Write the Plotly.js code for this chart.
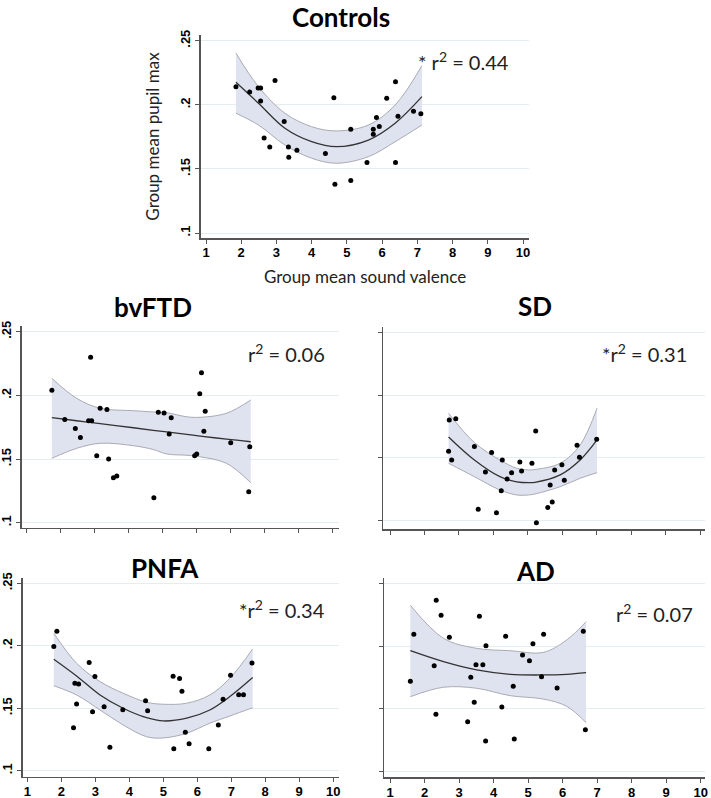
<!DOCTYPE html>
<html>
<head>
<meta charset="utf-8">
<script src="https://cdn.plot.ly/plotly-3.0.1.min.js"></script>
<style>html,body{margin:0;padding:0;background:#fff;}#chart{width:711px;height:798px;}</style>
</head>
<body>
<div id="chart"></div>
<script>
// ---------- Data ----------
// Controls
const ctrlX = [1.85,2.24,2.48,2.55,2.55,2.96,2.65,2.81,3.22,3.34,3.35,3.58,4.39,4.63,4.66,5.11,5.11,5.57,5.75,5.75,5.84,5.92,6.13,6.38,6.38,6.45,6.89,7.10];
const ctrlY = [0.214,0.210,0.213,0.213,0.203,0.219,0.174,0.167,0.187,0.167,0.159,0.1645,0.162,0.2055,0.138,0.181,0.141,0.155,0.181,0.177,0.190,0.183,0.205,0.218,0.155,0.191,0.195,0.193];
const ctrlFitX = [1.85,2.49,3.24,4.0,4.7,5.61,6.37,7.13];
const ctrlFit  = [0.2175,0.2012,0.1817,0.1712,0.1673,0.1725,0.1856,0.2063];
const ctrlUp   = [0.2402,0.2141,0.1934,0.1829,0.1796,0.1842,0.1998,0.2305];
const ctrlLo   = [0.1934,0.1842,0.1686,0.1583,0.1544,0.1595,0.1712,0.1842];

// bvFTD
const bvX = [1.74,2.12,2.43,2.58,2.88,2.82,2.91,3.06,3.16,3.36,3.41,3.55,3.65,4.74,4.87,5.04,5.19,5.25,5.94,6.0,6.09,6.14,6.25,6.21,7.0,7.56,7.53];
const bvY = [0.204,0.181,0.174,0.167,0.230,0.180,0.180,0.1526,0.190,0.189,0.150,0.1354,0.1367,0.1196,0.1867,0.1862,0.1697,0.1825,0.1526,0.1539,0.2013,0.2178,0.1875,0.1718,0.1628,0.1597,0.1244];
const bvFitX = [1.74,2.47,3.16,4.14,4.72,5.12,5.71,6.10,6.88,7.59];
const bvFit  = [0.1825,0.1801,0.1778,0.1746,0.1726,0.1713,0.1694,0.1681,0.1656,0.1636];
const bvUp   = [0.2134,0.1977,0.1899,0.1880,0.1870,0.1864,0.1832,0.1828,0.1860,0.1964];
const bvLo   = [0.1506,0.1584,0.1624,0.1605,0.1575,0.1540,0.1530,0.1518,0.1466,0.1314];

// SD
const sdX = [2.72,2.91,2.70,2.79,3.45,3.77,3.95,4.26,4.40,4.23,4.53,4.77,4.82,5.12,5.23,5.65,5.78,5.99,6.06,6.43,6.50,7.0,3.56,4.09,5.25,5.58,5.71];
const sdY = [0.1804,0.1812,0.1554,0.1484,0.1591,0.1389,0.1543,0.1484,0.1333,0.1239,0.1383,0.1468,0.1397,0.1458,0.1716,0.1285,0.1405,0.1445,0.1322,0.1602,0.1506,0.165,0.1091,0.1064,0.0984,0.1104,0.1149];
const sdFitX = [2.70,3.45,4.19,4.68,5.02,5.21,5.94,6.52,7.01];
const sdFit  = [0.1668,0.1484,0.1351,0.1310,0.1303,0.1306,0.1365,0.1484,0.1644];
const sdUp   = [0.1857,0.1623,0.1484,0.1418,0.1405,0.1408,0.1458,0.1604,0.1897];
const sdLo   = [0.1458,0.1351,0.1245,0.1205,0.1205,0.1213,0.1271,0.1338,0.1383];

// PNFA
const pnX = [1.78,1.87,2.40,2.51,2.45,2.36,2.82,2.99,2.92,3.26,3.43,3.81,4.48,4.54,5.29,5.48,5.55,5.31,5.65,5.76,6.34,6.62,6.76,6.98,7.22,7.36,7.61];
const pnY = [0.1993,0.2116,0.170,0.1694,0.1534,0.1344,0.1865,0.1753,0.1472,0.1512,0.1187,0.1488,0.156,0.148,0.1756,0.1737,0.1636,0.1176,0.1307,0.1216,0.1176,0.1366,0.1572,0.1764,0.1608,0.1608,0.1862];
const pnFitX = [1.78,2.45,3.14,3.82,4.51,5.00,5.69,6.37,6.96,7.63];
const pnFit  = [0.1892,0.1758,0.1606,0.1500,0.1424,0.1398,0.1420,0.1486,0.1593,0.1745];
const pnUp   = [0.2100,0.1860,0.1713,0.1620,0.1548,0.1532,0.1540,0.1606,0.1740,0.1974];
const pnLo   = [0.1680,0.1606,0.1486,0.1366,0.1272,0.1262,0.1300,0.1380,0.1438,0.1504];

// AD
const adX = [1.59,1.69,2.34,2.48,2.28,2.33,2.72,3.34,3.25,3.44,3.49,3.69,3.59,3.78,3.77,4.24,4.35,4.57,4.60,4.84,5.04,5.14,5.39,5.45,5.84,6.60,6.66];
const adY = [0.172,0.2094,0.2365,0.2245,0.1844,0.1457,0.207,0.1752,0.1398,0.1553,0.1852,0.1852,0.2237,0.2003,0.1244,0.1515,0.2078,0.168,0.126,0.1929,0.1884,0.2019,0.1756,0.2094,0.1666,0.2118,0.1334];
const adFitX = [1.59,2.55,3.51,4.48,5.44,6.12,6.68];
const adFit  = [0.1963,0.1876,0.1810,0.1775,0.1770,0.1775,0.1788];
const adUp   = [0.2325,0.2062,0.1982,0.1963,0.1950,0.2049,0.2194];
const adLo   = [0.1597,0.1672,0.1664,0.1605,0.1578,0.1520,0.1390];

// Tick labels
const xTickVals = [1,2,3,4,5,6,7,8,9,10];
const xTickText = ['1','2','3','4','5','6','7','8','9','10'];
const yTickVals = [0.1,0.15,0.2,0.25];
const yTickText = ['.1','.15','.2','.25'];

const panels = [
  {name:'Controls', x:ctrlX, y:ctrlY, fx:ctrlFitX, fit:ctrlFit, up:ctrlUp, lo:ctrlLo, r2:'* r<sup>2</sup> = 0.44'},
  {name:'bvFTD', x:bvX, y:bvY, fx:bvFitX, fit:bvFit, up:bvUp, lo:bvLo, r2:'r<sup>2</sup> = 0.06'},
  {name:'SD', x:sdX, y:sdY, fx:sdFitX, fit:sdFit, up:sdUp, lo:sdLo, r2:'*r<sup>2</sup> = 0.31'},
  {name:'PNFA', x:pnX, y:pnY, fx:pnFitX, fit:pnFit, up:pnUp, lo:pnLo, r2:'*r<sup>2</sup> = 0.34'},
  {name:'AD', x:adX, y:adY, fx:adFitX, fit:adFit, up:adUp, lo:adLo, r2:'r<sup>2</sup> = 0.07'}
];

// ---------- Layout geometry (pixels in 711x798 page) ----------
const W = 711, H = 798;
const geom = [
  {px:[201,529],   py:[35,238],    xr:[0.858,10.17], yr:[0.0961,0.2544], xl:true,  yl:true,  title:[341,17],  r2:[416,61]},
  {px:[21.5,339],  py:[326,527.7], xr:[0.847,10.185],yr:[0.0961,0.2545], xl:false, yl:true,  title:[153,307], r2:[246,353]},
  {px:[383.3,705], py:[327,529.3], xr:[0.805,10.145],yr:[0.0931,0.2545], xl:false, yl:false, title:[535,306], r2:[600,353]},
  {px:[23,339],    py:[578,776.7], xr:[0.874,10.17], yr:[0.0952,0.2542], xl:true,  yl:true,  title:[165,568], r2:[237,609]},
  {px:[384.3,705], py:[578,777.3], xr:[0.835,10.125],yr:[0.0955,0.2542], xl:true,  yl:false, title:[535,571], r2:[614,613]}
];

const tickFont = {family:'Liberation Sans, Arial, sans-serif', size:13, color:'#000', weight:700};
const bold = s => '<b>' + s + '</b>';
const bandFill = 'rgba(221,224,238,0.95)';
const edgeColor = '#a9abb4';
const traces = [];
const layout = {
  width:W, height:H, margin:{l:0,r:0,t:0,b:0},
  paper_bgcolor:'#fff', plot_bgcolor:'rgba(0,0,0,0)',
  showlegend:false, annotations:[]
};

panels.forEach((p,i)=>{
  const g = geom[i];
  const xa = i===0 ? 'x' : 'x'+(i+1);
  const ya = i===0 ? 'y' : 'y'+(i+1);
  const xk = i===0 ? 'xaxis' : 'xaxis'+(i+1);
  const yk = i===0 ? 'yaxis' : 'yaxis'+(i+1);
  traces.push({x:p.fx, y:p.lo, xaxis:xa, yaxis:ya, mode:'lines', line:{color:edgeColor, width:1, shape:'spline'}, hoverinfo:'skip'});
  traces.push({x:p.fx, y:p.up, xaxis:xa, yaxis:ya, mode:'lines', fill:'tonexty', fillcolor:bandFill, line:{color:edgeColor, width:1, shape:'spline'}, hoverinfo:'skip'});
  traces.push({x:p.fx, y:p.fit, xaxis:xa, yaxis:ya, mode:'lines', line:{color:'#333', width:1.3, shape:'spline'}});
  traces.push({x:p.x, y:p.y, xaxis:xa, yaxis:ya, mode:'markers', marker:{color:'#000', size:5}});

  const xax = {
    domain:[g.px[0]/W, g.px[1]/W], range:g.xr, anchor:ya,
    tickmode:'array', tickvals:xTickVals,
    showticklabels:g.xl, ticks:'outside', ticklen:4, tickcolor:'#555', tickwidth:1,
    showline:true, linecolor:'#555', linewidth:1.6, showgrid:false, zeroline:false,
    tickfont:tickFont, fixedrange:true
  };
  if (g.xl) { xax.ticktext = xTickText.map(bold); xax.ticklabelstandoff = -2; }
  layout[xk] = xax;
  const yax = {
    domain:[1-g.py[1]/H, 1-g.py[0]/H], range:g.yr, anchor:xa,
    tickmode:'array', tickvals:yTickVals, tickangle:-90,
    showticklabels:g.yl, ticks:'outside', ticklen:4, tickcolor:'#555', tickwidth:1,
    showline:true, linecolor:'#555', linewidth:1.6, showgrid:true, gridcolor:'#e4eef0', gridwidth:1,
    zeroline:false, tickfont:tickFont, fixedrange:true
  };
  if (g.yl) { yax.ticktext = yTickText.map(bold); }
  layout[yk] = yax;
  layout.annotations.push({
    text:'<b>'+p.name+'</b>', xref:'paper', yref:'paper', x:g.title[0]/W, y:1-g.title[1]/H,
    xanchor:'center', yanchor:'middle', showarrow:false,
    font:{family:'Lato, Open Sans, sans-serif', size:26, color:'#000'}
  });
  layout.annotations.push({
    text:p.r2, xref:'paper', yref:'paper', x:g.r2[0]/W, y:1-g.r2[1]/H,
    xanchor:'left', yanchor:'middle', showarrow:false,
    font:{family:'Lato, Open Sans, sans-serif', size:20, color:'#222'}
  });
});

layout.xaxis.title = {text:'Group mean sound valence', font:{family:'Lato, Open Sans, sans-serif', size:17, color:'#222'}, standoff:12};
layout.yaxis.title = {text:'Group mean pupil max', font:{family:'Lato, Open Sans, sans-serif', size:17, color:'#222'}, standoff:14};

Plotly.newPlot('chart', traces, layout, {displayModeBar:false, staticPlot:true});
</script>
</body>
</html>
